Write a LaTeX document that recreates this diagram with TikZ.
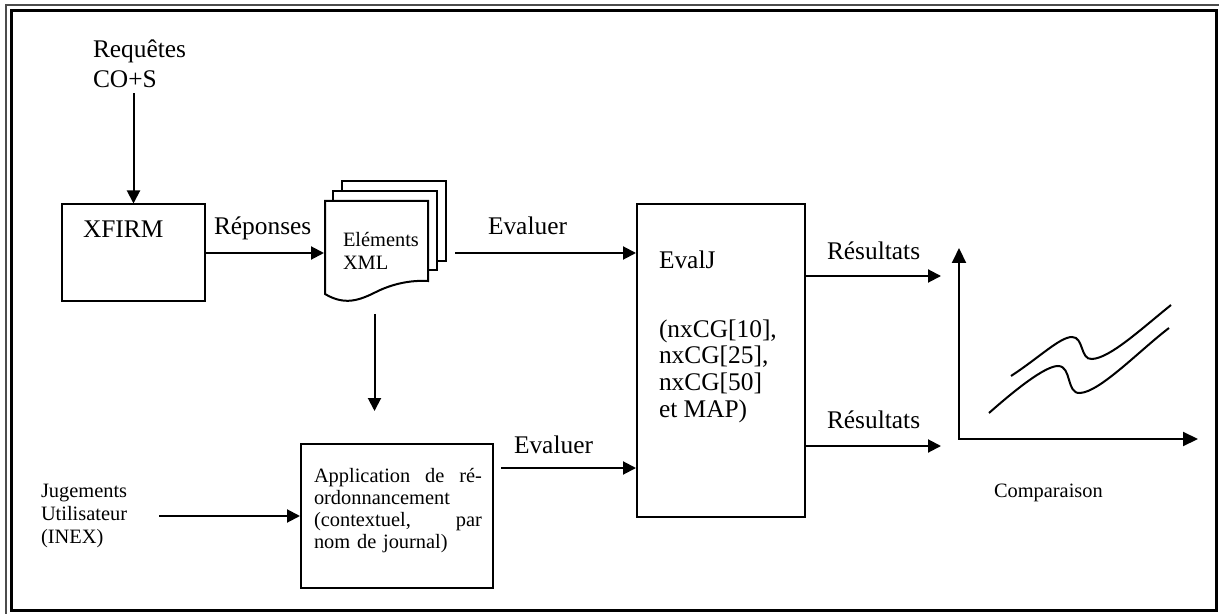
\documentclass[tikz,border=0pt]{standalone}
\usepackage{fontspec}
\setmainfont{Liberation Serif}
\usetikzlibrary{arrows.meta,calc}
\begin{document}
\begin{tikzpicture}[x=0.5pt,y=-0.5pt,
  line width=1pt,
  arr/.style={-{Triangle[length=6.5pt,width=6.5pt]}},
  axis/.style={{Triangle[length=7.5pt,width=7pt]}-{Triangle[length=7.5pt,width=7pt]}},
  box/.style={draw,rectangle,inner sep=0pt},
  big/.style={font=\fontsize{12.7}{15}\selectfont, inner sep=0pt},
  small/.style={font=\fontsize{10.2}{11.5}\selectfont, inner sep=0pt},
  paper/.style={draw,fill=white},
]
\useasboundingbox (0,0) rectangle (1219,614);

% double frame around the figure
\draw[line width=0.8pt, black!70] (6,614) -- (6,5) -- (1219,5);
\draw[line width=1.5pt] (11,11) rectangle (1216,610);

% retrieval system (multi-line nodes are placed by their last baseline)
\node[box, minimum width=71.5pt, minimum height=48.5pt] (xfirm) at (133.5,253) {};
\node[big, anchor=base west] (xfirmlbl) at (82,238) {XFIRM};
\node[big, anchor=base west, align=left] (req) at (92,88) {Requêtes\\CO+S};
\draw[arr] ([yshift=-2pt]req.south -| xfirm.north) -- (xfirm.north);

% stack of result documents
\node[inner sep=0pt, minimum width=60.5pt, minimum height=60.5pt] (stack) at (385.5,241.5) {};
\node[inner sep=0pt, minimum width=51.5pt, minimum height=50.5pt] (docs) at (376.5,251.5) {};
\draw[paper] (342,261) -- (342,181) -- (446,181) -- (446,261) -- cycle;
\draw[paper] (333,270) -- (333,191) -- (437,191) -- (437,270) -- cycle;
\draw[paper] (325,294) -- (325,201) -- (428,201) -- (428,281)
  .. controls (410,280) and (392,284) .. (376,292)
  .. controls (360,300) and (345,306) .. (325,294) -- cycle;
\node[small, anchor=base west, align=left] (elx) at (342,270) {Eléments\\XML};

\draw[arr] (xfirm.east) -- (xfirm.east -| stack.west);
\node[big, anchor=base west] (rep) at (213,235) {Réponses};

% evaluation tool
\node[box, minimum width=84pt, minimum height=156.5pt] (evalj) at (721,360.5) {};
\node[big, anchor=base west] (ejl) at (658,269) {EvalJ};
\node[anchor=base west, align=left, font=\fontsize{12.7}{13.3}\selectfont, inner sep=0pt]
  (metr) at (658,417) {(nxCG[10],\\nxCG[25],\\nxCG[50]\\et MAP)};

\draw[arr] ([xshift=4pt]xfirm.east -| stack.east) -- (xfirm.east -| evalj.west);
\node[big, anchor=base west] (ev1) at (487,235) {Evaluer};

% re-ranking
\node[box, minimum width=96pt, minimum height=72pt] (app) at (397,516) {};
\node[anchor=base west, align=left, text width=84pt, inner sep=0pt,
  font=\fontsize{10.2}{11}\selectfont] (appl) at (313,482)
  {Application\hfill de\hfill ré-\\ordonnancement\\(contextuel,\hfill par\\nom de journal)};
\coordinate (d1) at ($(docs.south)+(-2,11)$);
\coordinate (d2) at ($(app.north)+(-23,-32)$);
\draw[arr] (d1) -- (d1 |- d2);

\node[small, anchor=base west, align=left] (jug) at (40,543) {Jugements\\Utilisateur\\(INEX)};
\draw[arr] ([xshift=15.5pt]jug.east |- app.west) -- (app.west);

\coordinate (e2) at ($(app.east)+(7,-48)$);
\draw[arr] (e2) -- (e2 -| evalj.west);
\node[big, anchor=base west] (ev2) at (513,453) {Evaluer};

% results to comparison
\coordinate (rx) at (941,0);
\coordinate (r1) at ($(evalj.north east)+(0,73)$);
\coordinate (r2) at ($(evalj.south east)+(0,-72)$);
\draw[arr] (r1) -- (r1 -| rx);
\draw[arr] (r2) -- (r2 -| rx);
\node[big, anchor=base west] (res1) at (826,260) {Résultats};
\node[big, anchor=base west] (res2) at (826,428) {Résultats};

% comparison chart
\coordinate (orig) at (959,439);
\coordinate (ytop) at (959,248);
\coordinate (xend) at (1198,439);
\draw[axis] (ytop) -- (orig) -- (xend);
\draw (1011,376) .. controls (1040,357) and (1060,337) .. (1072,337)
  .. controls (1084,337) and (1080,360) .. (1092,359)
  .. controls (1110,358) and (1140,330) .. (1171,305);
\draw (989,413) .. controls (1015,390) and (1045,366) .. (1058,366)
  .. controls (1072,366) and (1066,394) .. (1080,393)
  .. controls (1100,392) and (1140,350) .. (1169,328);
\node[small, anchor=base west] (cmp) at (993,497) {Comparaison};
\end{tikzpicture}
\end{document}
